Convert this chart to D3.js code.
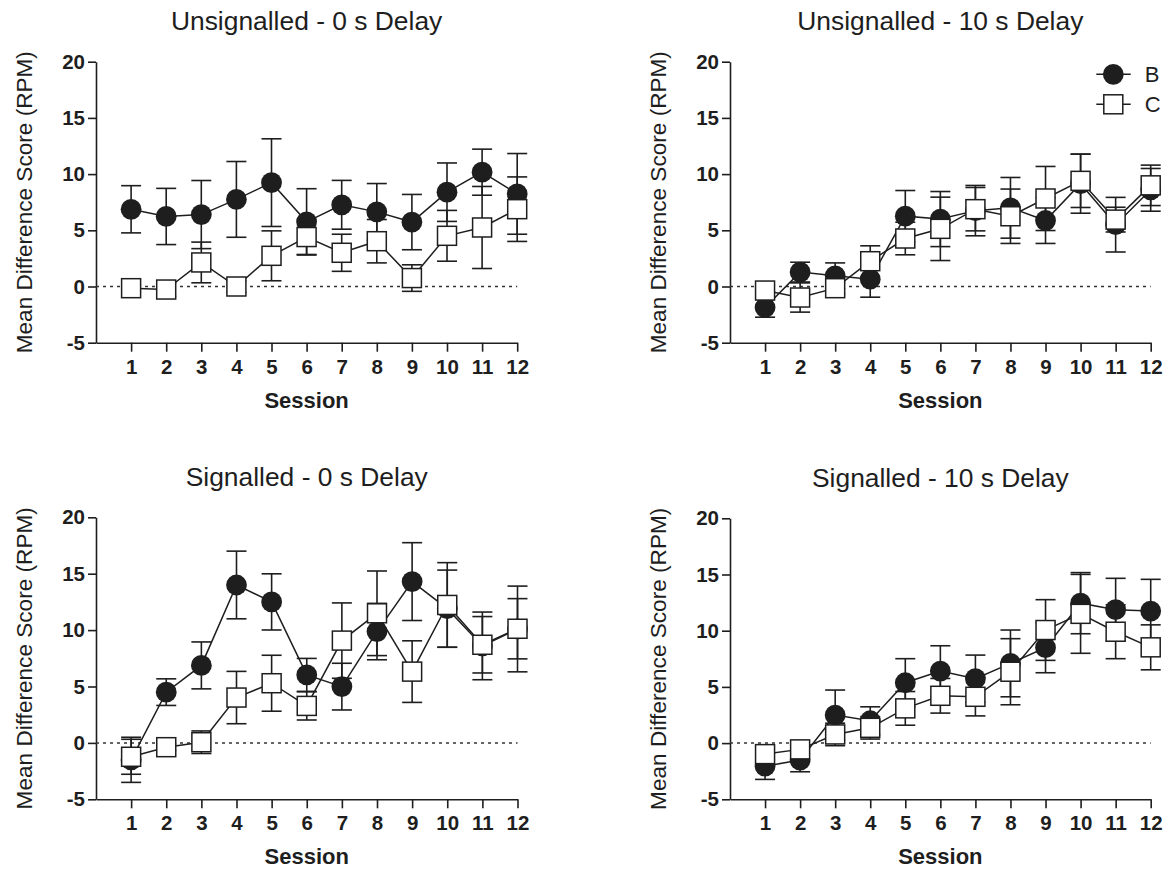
<!DOCTYPE html>
<html>
<head>
<meta charset="utf-8">
<script src="https://cdn.jsdelivr.net/npm/d3@7"></script>
<style>
  html, body { margin: 0; padding: 0; background: #fff; }
  svg { display: block; font-family: "Liberation Sans", Arial, Helvetica, sans-serif; }
</style>
</head>
<body>
<svg id="chart" width="1170" height="870"></svg>
<script>
// ---------------- DATA ----------------
const sessions = [1, 2, 3, 4, 5, 6, 7, 8, 9, 10, 11, 12];
const yTicks = [-5, 0, 5, 10, 15, 20];
const seriesNames = ["B", "C"];
const panelTitles = [
  "Unsignalled - 0 s Delay",
  "Unsignalled - 10 s Delay",
  "Signalled - 0 s Delay",
  "Signalled - 10 s Delay"
];

// Unsignalled - 0 s Delay
const uns0B_mean = [6.87, 6.23, 6.40, 7.75, 9.24, 5.75, 7.27, 6.64, 5.73, 8.39, 10.17, 8.24];
const uns0B_sem  = [2.10, 2.50, 3.03, 3.37, 3.90, 2.95, 2.17, 2.52, 2.46, 2.60, 2.05, 3.59];
const uns0C_mean = [-0.15, -0.27, 2.14, 0.00, 2.73, 4.40, 3.00, 4.03, 0.75, 4.51, 5.25, 6.88];
const uns0C_sem  = [0.30, 0.60, 1.81, 0.50, 2.22, 1.55, 1.65, 1.93, 1.18, 2.26, 3.65, 2.87];

// Unsignalled - 10 s Delay
const uns10B_mean = [-1.87, 1.28, 0.95, 0.65, 6.26, 6.00, 6.75, 7.00, 5.87, 9.15, 5.50, 8.60];
const uns10B_sem  = [0.86, 0.88, 1.15, 1.60, 2.28, 2.45, 2.24, 2.70, 2.04, 2.63, 2.43, 1.90];
const uns10C_mean = [-0.36, -0.98, -0.15, 2.25, 4.27, 5.13, 6.88, 6.25, 7.83, 9.40, 5.95, 9.00];
const uns10C_sem  = [0.50, 1.30, 0.50, 1.37, 1.45, 2.82, 1.93, 2.42, 2.85, 2.37, 1.10, 1.80];

// Signalled - 0 s Delay
const sig0B_mean = [-1.50, 4.50, 6.87, 14.00, 12.50, 6.03, 4.99, 9.87, 14.30, 11.90, 8.60, 10.10];
const sig0B_sem  = [2.00, 1.18, 2.08, 3.00, 2.49, 1.46, 2.07, 2.50, 3.45, 3.42, 3.00, 3.80];
const sig0C_mean = [-1.23, -0.38, 0.06, 4.02, 5.29, 3.28, 9.07, 11.49, 6.32, 12.23, 8.70, 10.12];
const sig0C_sem  = [1.55, 0.30, 1.00, 2.32, 2.48, 1.25, 3.34, 3.75, 2.73, 3.75, 2.50, 2.67];

// Signalled - 10 s Delay
const sig10B_mean = [-2.05, -1.51, 2.49, 1.99, 5.37, 6.41, 5.73, 7.09, 8.49, 12.45, 11.87, 11.75];
const sig10B_sem  = [1.18, 1.04, 2.23, 1.24, 2.14, 2.25, 2.10, 2.97, 2.23, 2.72, 2.79, 2.82];
const sig10C_mean = [-0.98, -0.56, 0.77, 1.36, 3.09, 4.21, 4.12, 6.35, 10.06, 11.50, 9.91, 8.52];
const sig10C_sem  = [0.50, 0.40, 1.00, 1.00, 1.50, 1.54, 1.70, 2.94, 2.70, 3.51, 2.40, 2.00];

// ---------------- LAYOUT ----------------
const panels = [
  { title: panelTitles[0], B: [uns0B_mean, uns0B_sem], C: [uns0C_mean, uns0C_sem],
    left: 96, right: 517.2, top: 61.7, bottom: 342.7, legend: false },
  { title: panelTitles[1], B: [uns10B_mean, uns10B_sem], C: [uns10C_mean, uns10C_sem],
    left: 730, right: 1150.7, top: 61.7, bottom: 342.7, legend: true },
  { title: panelTitles[2], B: [sig0B_mean, sig0B_sem], C: [sig0C_mean, sig0C_sem],
    left: 96, right: 517.5, top: 517.3, bottom: 799.3, legend: false },
  { title: panelTitles[3], B: [sig10B_mean, sig10B_sem], C: [sig10C_mean, sig10C_sem],
    left: 730, right: 1150.7, top: 518.3, bottom: 799.3, legend: false }
];

const INK = "#1e1e1e";
const R = 10.4;       // circle radius
const SQ = 19;        // square side
const CAP = 10;       // half cap width

const svg = d3.select("#chart");

function drawMarker(g, type, cx, cy) {
  if (type === "B") {
    g.append("circle").attr("cx", cx).attr("cy", cy).attr("r", R)
      .attr("fill", INK).attr("stroke", "none");
  } else {
    g.append("rect").attr("x", cx - SQ / 2).attr("y", cy - SQ / 2)
      .attr("width", SQ).attr("height", SQ)
      .attr("fill", "#fff").attr("stroke", INK).attr("stroke-width", 1.5);
  }
}

panels.forEach(p => {
  const x = d3.scaleLinear().domain([0, 12]).range([p.left, p.right]);
  const y = d3.scaleLinear().domain([-5, 20]).range([p.bottom, p.top]);
  const g = svg.append("g");

  // title
  g.append("text")
    .attr("x", (p.left + p.right) / 2)
    .attr("y", p.top - 31.7)
    .attr("text-anchor", "middle")
    .attr("font-size", 26.4)
    .attr("fill", INK)
    .text(p.title);

  // y axis (plain hyphen for negatives, as in the original)
  const yAxis = g.append("g").attr("transform", `translate(${p.left},0)`)
    .call(d3.axisLeft(y).tickValues(yTicks).tickFormat(d => String(d))
      .tickSize(8).tickSizeOuter(0).tickPadding(3));
  // x axis
  const xAxis = g.append("g").attr("transform", `translate(0,${p.bottom})`)
    .call(d3.axisBottom(x).tickValues(sessions).tickFormat(d => String(d))
      .tickSize(9).tickSizeOuter(0).tickPadding(7.5));
  [yAxis, xAxis].forEach(a => {
    a.selectAll("path.domain").attr("stroke", INK).attr("stroke-width", 1.6);
    a.selectAll(".tick line").attr("stroke", INK).attr("stroke-width", 1.6);
    a.selectAll(".tick text").attr("fill", INK).attr("font-size", 20.5)
      .attr("font-weight", "bold").attr("font-family", "\"Liberation Sans\", Arial, sans-serif");
  });

  // axis titles
  g.append("text")
    .attr("transform", `translate(${p.left - 64},${(p.top + p.bottom) / 2}) rotate(-90)`)
    .attr("text-anchor", "middle")
    .attr("font-size", 22.6)
    .attr("fill", INK)
    .text("Mean Difference Score (RPM)");
  g.append("text")
    .attr("x", (p.left + p.right) / 2)
    .attr("y", p.bottom + 65)
    .attr("text-anchor", "middle")
    .attr("font-size", 22)
    .attr("font-weight", "bold")
    .attr("fill", INK)
    .text("Session");

  // dotted zero line
  g.append("line")
    .attr("x1", x(0)).attr("x2", x(12))
    .attr("y1", y(0)).attr("y2", y(0))
    .attr("stroke", "#333").attr("stroke-width", 1.5)
    .attr("stroke-dasharray", "3,4");

  // series
  seriesNames.forEach(name => {
    const [means, sems] = p[name];
    const pts = sessions.map((s, i) => ({ s, m: means[i], e: sems[i] }));
    const sg = g.append("g");
    sg.append("path")
      .datum(pts)
      .attr("fill", "none").attr("stroke", INK).attr("stroke-width", 1.5)
      .attr("d", d3.line().x(d => x(d.s)).y(d => y(d.m)));
    const eb = sg.append("g").attr("stroke", INK).attr("stroke-width", 1.6);
    pts.forEach(d => {
      eb.append("line").attr("x1", x(d.s)).attr("x2", x(d.s))
        .attr("y1", y(d.m - d.e)).attr("y2", y(d.m + d.e));
      eb.append("line").attr("x1", x(d.s) - CAP).attr("x2", x(d.s) + CAP)
        .attr("y1", y(d.m + d.e)).attr("y2", y(d.m + d.e));
      eb.append("line").attr("x1", x(d.s) - CAP).attr("x2", x(d.s) + CAP)
        .attr("y1", y(d.m - d.e)).attr("y2", y(d.m - d.e));
    });
    pts.forEach(d => drawMarker(sg, name, x(d.s), y(d.m)));
  });

  // legend
  if (p.legend) {
    const lx = p.right - 37.4;
    const lg = g.append("g");
    seriesNames.forEach((name, i) => {
      const ly = p.top + 12.6 + i * 30;
      lg.append("line").attr("x1", lx - 17).attr("x2", lx + 17.4)
        .attr("y1", ly).attr("y2", ly)
        .attr("stroke", INK).attr("stroke-width", 1.5);
      drawMarker(lg, name, lx, ly);
      lg.append("text").attr("x", lx + 31.5).attr("y", ly + 8)
        .attr("font-size", 22).attr("fill", INK).text(name);
    });
  }
});
</script>
</body>
</html>
